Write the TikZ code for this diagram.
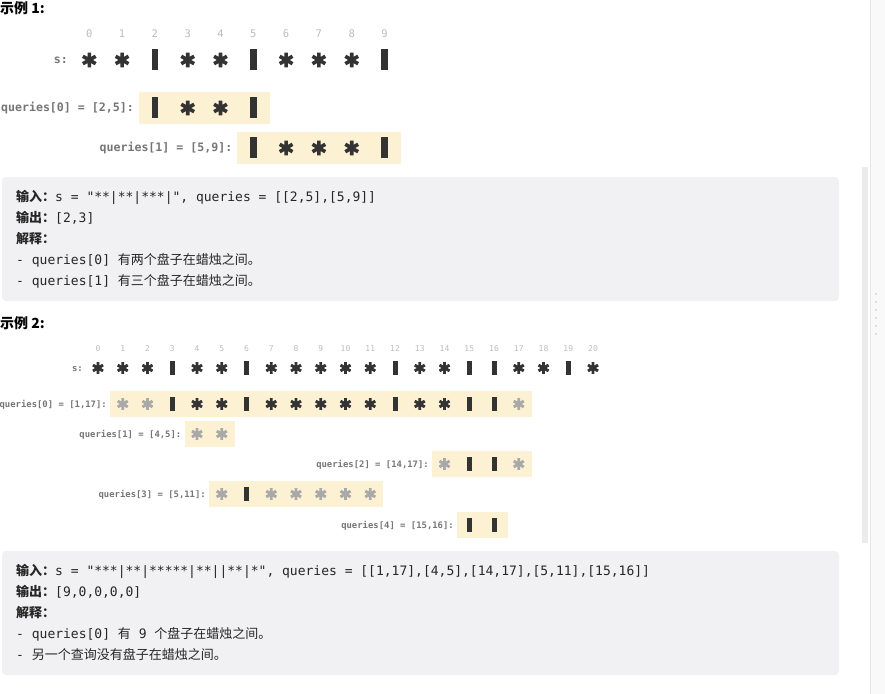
\documentclass[tikz,border=0pt]{standalone}
\usepackage{fontspec}
\setmainfont{DejaVu Sans}
\setmonofont{DejaVu Sans Mono}
\newfontfamily\cjk{Noto Sans CJK SC}
\usetikzlibrary{calc}
\definecolor{hl}{HTML}{FDF1D3}
\definecolor{codebg}{HTML}{F1F1F3}
\definecolor{dk}{HTML}{333333}
\definecolor{lt}{HTML}{A9A9A9}
\definecolor{idx}{HTML}{BDBDBD}
\definecolor{lbl}{HTML}{767676}
\definecolor{txt}{HTML}{262626}
\definecolor{sbar}{HTML}{EBEBEB}
\definecolor{panel}{HTML}{F9F9F9}
\definecolor{panelline}{HTML}{E6E6E6}
% star: x y r lw color
\newcommand{\drawast}[5]{%
  \begin{scope}[shift={(#1,#2)}]
    \draw[#5, line width=#4bp] (0,-#3) -- (0,#3)
      (-0.866*#3,-0.5*#3) -- (0.866*#3,0.5*#3)
      (-0.866*#3,0.5*#3) -- (0.866*#3,-0.5*#3);
  \end{scope}}
% bar: x y w h color
\newcommand{\drawbar}[5]{%
  \fill[#5] ($(#1,#2)+(-0.5*#3,-0.5*#4)$) rectangle ($(#1,#2)+(0.5*#3,0.5*#4)$);}
\tikzset{
  heading/.style={anchor=west, inner sep=0pt, font=\cjk\bfseries\fontsize{14bp}{16bp}\selectfont, text=black},
  codeline/.style={anchor=base west, inner sep=0pt, font=\ttfamily\fontsize{13bp}{15bp}\selectfont, text=txt},
  codebox/.style={fill=codebg, draw=none, rounded corners=4bp},
  hlbox/.style={fill=hl, draw=none},
  idxA/.style={anchor=base, inner sep=0pt, font=\ttfamily\fontsize{10.5bp}{12bp}\selectfont, text=idx},
  idxB/.style={anchor=base, inner sep=0pt, font=\ttfamily\fontsize{8bp}{10bp}\selectfont, text=idx},
  lblA/.style={anchor=base east, inner sep=0pt, font=\ttfamily\bfseries\fontsize{11.6bp}{13bp}\selectfont, text=lbl},
  lblB/.style={anchor=base east, inner sep=0pt, font=\ttfamily\bfseries\fontsize{8.9bp}{10bp}\selectfont, text=lbl},
}
\newcommand{\bk}[1]{{\cjk\bfseries #1}}
\newcommand{\zh}[1]{{\cjk #1}}
\begin{document}
\begin{tikzpicture}[x=1bp, y=-1bp]
\useasboundingbox (0,0) rectangle (885,694);
\fill[white] (0,0) rectangle (885,694);
% right panel and scrollbar
\fill[panel] (870,0) rectangle (885,694);
\draw[panelline, line width=0.8bp] (870,0) -- (870,694);
\fill[sbar] (862,167) rectangle (868,543);
\foreach \k in {0,...,5} \fill[lt!70] (876,294+8*\k) circle (0.8bp);

% ================= Example 1 =================
\node[heading] (h1) at (0,8) {示例 1:};
\foreach \i in {0,...,9} {
  \pgfmathsetmacro\cx{89.3+32.8*\i}
  \node[idxA] (ia\i) at (\cx,38) {\i};
}
\node[lblA] (sa) at (68,64) {s:};
\foreach \i in {0,1,3,4,6,7,8} {\pgfmathsetmacro\cx{89.3+32.8*\i}\drawast{\cx}{60}{7.4}{3.6}{dk}}
\foreach \i in {2,5,9} {\pgfmathsetmacro\cx{89.3+32.8*\i}\drawbar{\cx}{60}{6.7}{21}{dk}}
% query 0
\fill[hlbox] (138.5,91.7) rectangle (269.5,124);
\node[lblA] (qa0) at (134,112) {queries[0] = [2,5]:};
\foreach \i in {3,4} {\pgfmathsetmacro\cx{89.3+32.8*\i}\drawast{\cx}{108}{7.4}{3.6}{dk}}
\foreach \i in {2,5} {\pgfmathsetmacro\cx{89.3+32.8*\i}\drawbar{\cx}{108}{6.7}{21}{dk}}
% query 1
\fill[hlbox] (237,131.7) rectangle (400.5,164);
\node[lblA] (qa1) at (232.5,152) {queries[1] = [5,9]:};
\foreach \i in {6,7,8} {\pgfmathsetmacro\cx{89.3+32.8*\i}\drawast{\cx}{148}{7.4}{3.6}{dk}}
\foreach \i in {5,9} {\pgfmathsetmacro\cx{89.3+32.8*\i}\drawbar{\cx}{148}{6.7}{21}{dk}}
% code box 1
\fill[codebox] (2,177) rectangle (839,301);
\node[codeline] (ca1) at (16,201.5) {\bk{输入：}s = "**|**|***|", queries = [[2,5],[5,9]]};
\node[codeline] (ca2) at (16,222.5) {\bk{输出：}[2,3]};
\node[codeline] (ca3) at (16,243.5) {\bk{解释：}};
\node[codeline] (ca4) at (16,264.5) {- queries[0] \zh{有两个盘子在蜡烛之间。}};
\node[codeline] (ca5) at (16,285.5) {- queries[1] \zh{有三个盘子在蜡烛之间。}};

% ================= Example 2 =================
\node[heading] (h2) at (0,323) {示例 2:};
\foreach \i in {0,...,20} {
  \pgfmathsetmacro\cx{98+24.75*\i}
  \node[idxB] (ib\i) at (\cx,351.5) {\i};
}
\node[lblB] (sb) at (83,371) {s:};
\foreach \i in {0,1,2,4,5,7,8,9,10,11,13,14,17,18,20} {\pgfmathsetmacro\cx{98+24.75*\i}\drawast{\cx}{368}{5.8}{2.9}{dk}}
\foreach \i in {3,6,12,15,16,19} {\pgfmathsetmacro\cx{98+24.75*\i}\drawbar{\cx}{368}{5}{14.5}{dk}}
% q0
\fill[hlbox] (110.25,391) rectangle (532.25,417);
\node[lblB] (qb0) at (107,407) {queries[0] = [1,17]:};
\foreach \i in {1,2,17} {\pgfmathsetmacro\cx{98+24.75*\i}\drawast{\cx}{404}{5.8}{2.9}{lt}}
\foreach \i in {4,5,7,8,9,10,11,13,14} {\pgfmathsetmacro\cx{98+24.75*\i}\drawast{\cx}{404}{5.8}{2.9}{dk}}
\foreach \i in {3,6,12,15,16} {\pgfmathsetmacro\cx{98+24.75*\i}\drawbar{\cx}{404}{5}{14.5}{dk}}
% q1
\fill[hlbox] (184.6,421) rectangle (234.6,447);
\node[lblB] (qb1) at (181.5,437) {queries[1] = [4,5]:};
\foreach \i in {4,5} {\pgfmathsetmacro\cx{98+24.75*\i}\drawast{\cx}{434}{5.8}{2.9}{lt}}
% q2
\fill[hlbox] (432.1,451) rectangle (532.25,477);
\node[lblB] (qb2) at (429,467) {queries[2] = [14,17]:};
\foreach \i in {14,17} {\pgfmathsetmacro\cx{98+24.75*\i}\drawast{\cx}{464}{5.8}{2.9}{lt}}
\foreach \i in {15,16} {\pgfmathsetmacro\cx{98+24.75*\i}\drawbar{\cx}{464}{5}{14.5}{dk}}
% q3
\fill[hlbox] (209.25,481) rectangle (383.1,507);
\node[lblB] (qb3) at (206,497) {queries[3] = [5,11]:};
\foreach \i in {5,7,8,9,10,11} {\pgfmathsetmacro\cx{98+24.75*\i}\drawast{\cx}{494}{5.8}{2.9}{lt}}
\foreach \i in {6} {\pgfmathsetmacro\cx{98+24.75*\i}\drawbar{\cx}{494}{5}{14.5}{dk}}
% q4
\fill[hlbox] (457,512) rectangle (507.6,538);
\node[lblB] (qb4) at (454,528) {queries[4] = [15,16]:};
\foreach \i in {15,16} {\pgfmathsetmacro\cx{98+24.75*\i}\drawbar{\cx}{525}{5}{14.5}{dk}}
% code box 2
\fill[codebox] (2,551) rectangle (839,675);
\node[codeline] (cb1) at (16,575.5) {\bk{输入：}s = "***|**|*****|**||**|*", queries = [[1,17],[4,5],[14,17],[5,11],[15,16]]};
\node[codeline] (cb2) at (16,596.5) {\bk{输出：}[9,0,0,0,0]};
\node[codeline] (cb3) at (16,617.5) {\bk{解释：}};
\node[codeline] (cb4) at (16,638.5) {- queries[0] \zh{有} 9 \zh{个盘子在蜡烛之间。}};
\node[codeline] (cb5) at (16,659.5) {- \zh{另一个查询没有盘子在蜡烛之间。}};
\end{tikzpicture}
\end{document}
